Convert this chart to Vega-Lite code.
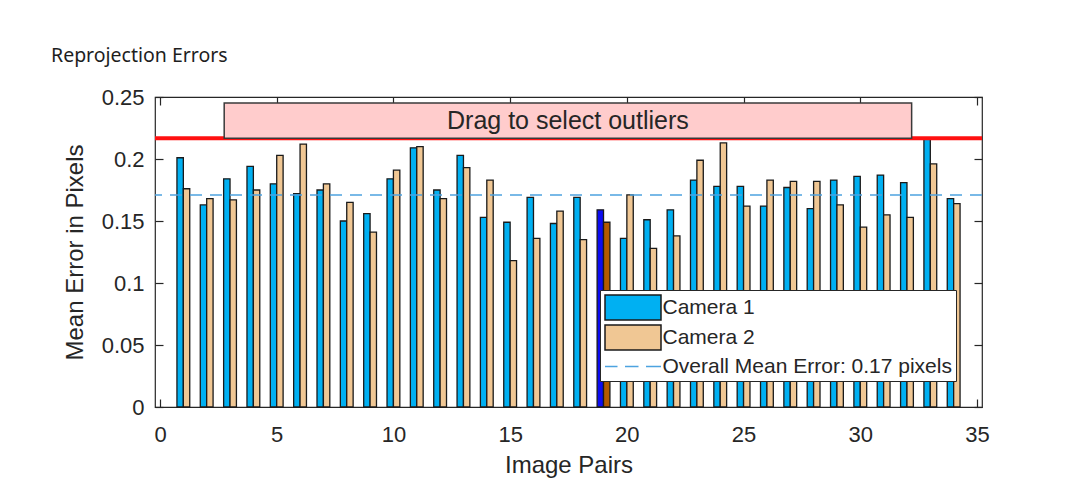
{
  "$schema": "https://vega.github.io/schema/vega-lite/v6.json",
  "width": 827,
  "height": 310,
  "autosize": "none",
  "padding": {"left": 155, "top": 97, "right": 98, "bottom": 92},
  "background": "white",
  "title": {
    "text": "Reprojection Errors",
    "anchor": "start",
    "frame": "group",
    "dx": -104,
    "offset": 5,
    "baseline": "alphabetic",
    "font": "Noto Sans",
    "fontSize": 19.5,
    "fontWeight": "normal",
    "color": "#1e1e1e"
  },
  "config": {
    "font": "Liberation Sans",
    "view": {"stroke": "#262626", "strokeWidth": 1.2},
    "axis": {
      "domain": false,
      "grid": false,
      "tickColor": "#262626",
      "tickSize": -8,
      "tickWidth": 1.2,
      "labelColor": "#262626",
      "labelFont": "Liberation Sans",
      "labelFontSize": 22,
      "labelFlush": false,
      "labelOverlap": false,
      "titleFont": "Liberation Sans",
      "titleFontSize": 24,
      "titleFontWeight": "normal",
      "titleColor": "#262626"
    }
  },
  "data": {
    "values": [
      {"pair": 1, "camera": "Camera 1", "error": 0.201}, {"pair": 1, "camera": "Camera 2", "error": 0.176},
      {"pair": 2, "camera": "Camera 1", "error": 0.163}, {"pair": 2, "camera": "Camera 2", "error": 0.168},
      {"pair": 3, "camera": "Camera 1", "error": 0.184}, {"pair": 3, "camera": "Camera 2", "error": 0.167},
      {"pair": 4, "camera": "Camera 1", "error": 0.194}, {"pair": 4, "camera": "Camera 2", "error": 0.175},
      {"pair": 5, "camera": "Camera 1", "error": 0.180}, {"pair": 5, "camera": "Camera 2", "error": 0.203},
      {"pair": 6, "camera": "Camera 1", "error": 0.172}, {"pair": 6, "camera": "Camera 2", "error": 0.212},
      {"pair": 7, "camera": "Camera 1", "error": 0.175}, {"pair": 7, "camera": "Camera 2", "error": 0.180},
      {"pair": 8, "camera": "Camera 1", "error": 0.150}, {"pair": 8, "camera": "Camera 2", "error": 0.165},
      {"pair": 9, "camera": "Camera 1", "error": 0.156}, {"pair": 9, "camera": "Camera 2", "error": 0.141},
      {"pair": 10, "camera": "Camera 1", "error": 0.184}, {"pair": 10, "camera": "Camera 2", "error": 0.191},
      {"pair": 11, "camera": "Camera 1", "error": 0.209}, {"pair": 11, "camera": "Camera 2", "error": 0.210},
      {"pair": 12, "camera": "Camera 1", "error": 0.175}, {"pair": 12, "camera": "Camera 2", "error": 0.168},
      {"pair": 13, "camera": "Camera 1", "error": 0.203}, {"pair": 13, "camera": "Camera 2", "error": 0.193},
      {"pair": 14, "camera": "Camera 1", "error": 0.153}, {"pair": 14, "camera": "Camera 2", "error": 0.183},
      {"pair": 15, "camera": "Camera 1", "error": 0.149}, {"pair": 15, "camera": "Camera 2", "error": 0.118},
      {"pair": 16, "camera": "Camera 1", "error": 0.169}, {"pair": 16, "camera": "Camera 2", "error": 0.136},
      {"pair": 17, "camera": "Camera 1", "error": 0.148}, {"pair": 17, "camera": "Camera 2", "error": 0.158},
      {"pair": 18, "camera": "Camera 1", "error": 0.169}, {"pair": 18, "camera": "Camera 2", "error": 0.135},
      {"pair": 19, "camera": "Camera 1", "error": 0.159}, {"pair": 19, "camera": "Camera 2", "error": 0.149},
      {"pair": 20, "camera": "Camera 1", "error": 0.136}, {"pair": 20, "camera": "Camera 2", "error": 0.171},
      {"pair": 21, "camera": "Camera 1", "error": 0.151}, {"pair": 21, "camera": "Camera 2", "error": 0.128},
      {"pair": 22, "camera": "Camera 1", "error": 0.159}, {"pair": 22, "camera": "Camera 2", "error": 0.138},
      {"pair": 23, "camera": "Camera 1", "error": 0.183}, {"pair": 23, "camera": "Camera 2", "error": 0.199},
      {"pair": 24, "camera": "Camera 1", "error": 0.178}, {"pair": 24, "camera": "Camera 2", "error": 0.213},
      {"pair": 25, "camera": "Camera 1", "error": 0.178}, {"pair": 25, "camera": "Camera 2", "error": 0.162},
      {"pair": 26, "camera": "Camera 1", "error": 0.162}, {"pair": 26, "camera": "Camera 2", "error": 0.183},
      {"pair": 27, "camera": "Camera 1", "error": 0.177}, {"pair": 27, "camera": "Camera 2", "error": 0.182},
      {"pair": 28, "camera": "Camera 1", "error": 0.160}, {"pair": 28, "camera": "Camera 2", "error": 0.182},
      {"pair": 29, "camera": "Camera 1", "error": 0.183}, {"pair": 29, "camera": "Camera 2", "error": 0.163},
      {"pair": 30, "camera": "Camera 1", "error": 0.186}, {"pair": 30, "camera": "Camera 2", "error": 0.145},
      {"pair": 31, "camera": "Camera 1", "error": 0.187}, {"pair": 31, "camera": "Camera 2", "error": 0.155},
      {"pair": 32, "camera": "Camera 1", "error": 0.181}, {"pair": 32, "camera": "Camera 2", "error": 0.153},
      {"pair": 33, "camera": "Camera 1", "error": 0.2165}, {"pair": 33, "camera": "Camera 2", "error": 0.196},
      {"pair": 34, "camera": "Camera 1", "error": 0.168}, {"pair": 34, "camera": "Camera 2", "error": 0.164}
    ]
  },
  "resolve": {"axis": {"x": "independent", "y": "independent"}},
  "layer": [
    {
      "transform": [{"filter": "datum.camera === 'Camera 1'"}],
      "mark": {"type": "bar", "width": 6.4, "xOffset": -3.2, "stroke": "#1a1a1a", "strokeWidth": 1.3},
      "encoding": {
        "x": {
          "field": "pair", "type": "quantitative",
          "scale": {"domain": [0, 35], "nice": false},
          "axis": {"orient": "bottom", "values": [0, 5, 10, 15, 20, 25, 30, 35], "labelPadding": 25, "title": "Image Pairs", "titlePadding": 8}
        },
        "y": {
          "field": "error", "type": "quantitative",
          "scale": {"domain": [0, 0.25], "nice": false},
          "axis": {"orient": "left", "values": [0, 0.05, 0.1, 0.15, 0.2, 0.25], "format": "~g", "labelPadding": 19, "title": "Mean Error in Pixels", "titlePadding": 14}
        },
        "color": {
          "condition": {"test": "datum.pair === 19", "value": "#0c0cf2"},
          "field": "camera", "type": "nominal",
          "scale": {"domain": ["Camera 1", "Camera 2", "Overall Mean Error: 0.17 pixels"], "range": ["#00b0f2", "#f0c794", "#4da3e0"]},
          "legend": {
            "orient": "none", "legendX": 445, "legendY": 193, "title": null, "zindex": 2,
            "fillColor": "white", "strokeColor": "#262626", "padding": 4,
            "symbolType": "M-2.24,-1H2.24V1H-2.24Z",
            "symbolSize": 625, "symbolOffset": 15.5, "symbolStrokeWidth": 1.5, "symbolStrokeColor": "#1a1a1a",
            "labelFont": "Liberation Sans", "labelFontSize": 21, "labelColor": "#262626", "labelOffset": 16, "labelLimit": 400,
            "rowPadding": -1,
            "encode": {"symbols": {
              "enter": {
                "shape": {"signal": "datum.index < 2 ? 'M-2.24,-1H2.24V1H-2.24Z' : 'M-2.24,0H-1.24M-0.64,0H0.44M1.04,0H2.24'"}
              },
              "update": {
                "shape": {"signal": "datum.index < 2 ? 'M-2.24,-1H2.24V1H-2.24Z' : 'M-2.24,0H-1.24M-0.64,0H0.44M1.04,0H2.24'"},
                "fill": {"signal": "datum.index < 2 ? scale('color', datum.value) : 'transparent'"},
                "stroke": {"signal": "datum.index < 2 ? '#1a1a1a' : '#4da3e0'"},
                "strokeWidth": {"value": 1.5},
                "opacity": {"value": 1}
              }
            }}
          }
        }
      }
    },
    {
      "transform": [{"filter": "datum.camera === 'Camera 2'"}],
      "mark": {"type": "bar", "width": 6.4, "xOffset": 3.2, "stroke": "#1a1a1a", "strokeWidth": 1.3},
      "encoding": {
        "x": {
          "field": "pair", "type": "quantitative",
          "axis": {"orient": "top", "values": [0, 5, 10, 15, 20, 25, 30, 35], "labels": false, "title": null}
        },
        "y": {
          "field": "error", "type": "quantitative",
          "axis": {"orient": "right", "values": [0, 0.05, 0.1, 0.15, 0.2, 0.25], "labels": false, "title": null}
        },
        "color": {
          "condition": {"test": "datum.pair === 19", "value": "#b35a00"},
          "field": "camera", "type": "nominal",
          "legend": null
        }
      }
    },
    {
      "data": {"values": [{"mean": 0.171}]},
      "mark": {"type": "rule", "stroke": "#4da3e0", "strokeWidth": 1.6, "strokeDash": [12, 8]},
      "encoding": {"y": {"field": "mean", "type": "quantitative", "axis": null}}
    },
    {
      "data": {"values": [{"threshold": 0.2167}]},
      "mark": {"type": "rule", "stroke": "#ff1010", "strokeWidth": 4},
      "encoding": {"y": {"field": "threshold", "type": "quantitative", "axis": null}}
    },
    {
      "data": {"values": [{"start": 2.75, "end": 32.2, "low": 0.2167, "high": 0.2452, "label": "Drag to select outliers"}]},
      "layer": [
        {
          "mark": {"type": "rect", "fill": "#ffcccc", "stroke": "#3a3a3a", "strokeWidth": 1.5},
          "encoding": {
            "x": {"field": "start", "type": "quantitative", "axis": null},
            "x2": {"field": "end"},
            "y": {"field": "high", "type": "quantitative", "axis": null},
            "y2": {"field": "low"}
          }
        },
        {
          "transform": [{"calculate": "(datum.start + datum.end) / 2", "as": "mid"}, {"calculate": "(datum.low + datum.high) / 2", "as": "midY"}],
          "mark": {"type": "text", "font": "Liberation Sans", "fontSize": 25, "color": "#262626", "baseline": "middle", "align": "center"},
          "encoding": {
            "x": {"field": "mid", "type": "quantitative", "axis": null},
            "y": {"field": "midY", "type": "quantitative", "axis": null},
            "text": {"field": "label"}
          }
        }
      ]
    }
  ]
}
